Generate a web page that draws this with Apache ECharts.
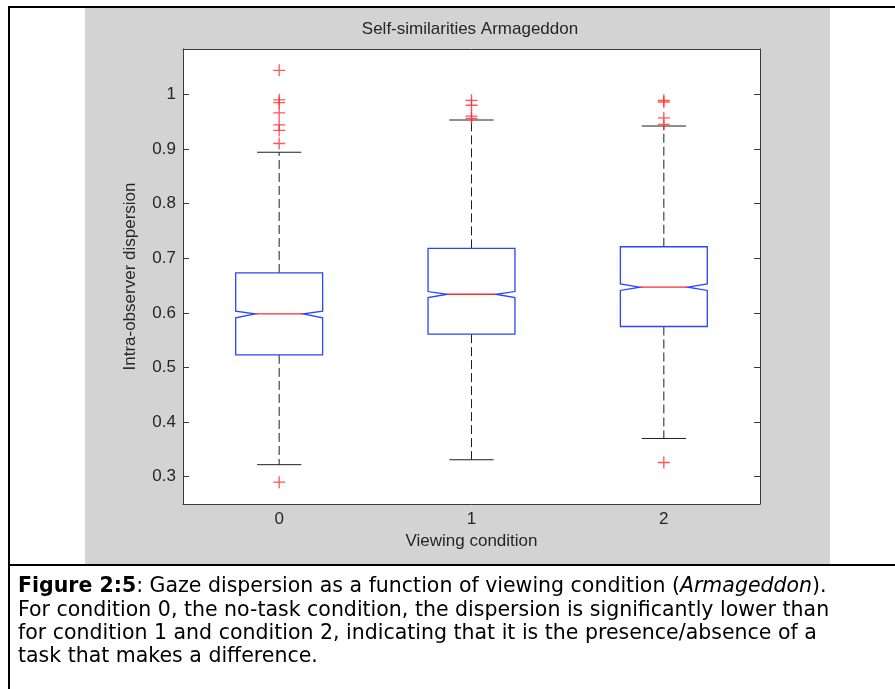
<!DOCTYPE html>
<html>
<head>
<meta charset="utf-8">
<script src="https://cdn.jsdelivr.net/npm/echarts@6/dist/echarts.min.js"></script>
<style>
  html, body { margin: 0; padding: 0; background: #ffffff; }
  #chart { width: 895px; height: 689px; }
</style>
</head>
<body>
<div id="chart"></div>
<script>
// Viewing conditions and the notched box-plot statistics for each one
const conditions = ['0', '1', '2'];
const whiskerLow = [0.322, 0.331, 0.370];
const q1 = [0.523, 0.561, 0.575];
const notchLow = [0.591, 0.628, 0.641];
const median = [0.598, 0.634, 0.647];
const notchHigh = [0.603, 0.639, 0.653];
const q3 = [0.673, 0.718, 0.721];
const whiskerHigh = [0.894, 0.953, 0.942];

// Outliers per condition
const outliers0 = [1.044, 0.990, 0.985, 0.966, 0.944, 0.934, 0.910, 0.290];
const outliers1 = [0.989, 0.980, 0.960, 0.956];
const outliers2 = [0.989, 0.986, 0.957, 0.945, 0.326];

// Y tick values
const yTicks = [0.3, 0.4, 0.5, 0.6, 0.7, 0.8, 0.9, 1.0];

const chart = echarts.init(document.getElementById('chart'), null, { renderer: 'canvas' });

const AXIS_COLOR = '#3a3a3a';
const TEXT_COLOR = '#262626';
const PLOT_FONT = '"Liberation Sans", Arial, sans-serif';
const CAPTION_FONT = '"DejaVu Sans", Verdana, sans-serif';
const CAPTION_SIZE = 20.5;

const boxData = conditions.map((c, i) => [
  i, whiskerLow[i], q1[i], notchLow[i], median[i], notchHigh[i], q3[i], whiskerHigh[i]
]);

const outlierData = []
  .concat(outliers0.map(v => [0, v]))
  .concat(outliers1.map(v => [1, v]))
  .concat(outliers2.map(v => [2, v]));

function renderNotchedBox(params, api) {
  const i = api.value(0);
  const band = api.size([1, 0])[0];
  const cx = api.coord([i, api.value(4)])[0];
  const py = k => api.coord([i, api.value(k)])[1];
  const yWl = py(1), yQ1 = py(2), yNl = py(3), yMed = py(4), yNh = py(5), yQ3 = py(6), yWh = py(7);
  const bw = band * 0.226;   // box half width
  const nw = band * 0.125;   // notch half width
  const cw = band * 0.115;   // whisker cap half width
  const blue = '#2646ff';
  const red = '#ff2a2a';
  const dark = '#1e1e1e';
  const dash = [9, 4];
  return {
    type: 'group',
    children: [
      { type: 'line', shape: { x1: cx, y1: yQ3, x2: cx, y2: yWh },
        style: { stroke: dark, lineWidth: 1, lineDash: dash } },
      { type: 'line', shape: { x1: cx, y1: yQ1, x2: cx, y2: yWl },
        style: { stroke: dark, lineWidth: 1, lineDash: dash } },
      { type: 'line', shape: { x1: cx - cw, y1: yWh, x2: cx + cw, y2: yWh },
        style: { stroke: dark, lineWidth: 1 } },
      { type: 'line', shape: { x1: cx - cw, y1: yWl, x2: cx + cw, y2: yWl },
        style: { stroke: dark, lineWidth: 1 } },
      { type: 'polygon',
        shape: { points: [
          [cx - bw, yQ3], [cx + bw, yQ3], [cx + bw, yNh], [cx + nw, yMed],
          [cx + bw, yNl], [cx + bw, yQ1], [cx - bw, yQ1], [cx - bw, yNl],
          [cx - nw, yMed], [cx - bw, yNh]
        ] },
        style: { fill: 'none', stroke: blue, lineWidth: 1.3 } },
      { type: 'line', shape: { x1: cx - nw, y1: yMed, x2: cx + nw, y2: yMed },
        style: { stroke: red, lineWidth: 1.3 } }
    ]
  };
}

const captionRich = {
  n: { fontSize: CAPTION_SIZE, fontFamily: CAPTION_FONT, fill: '#000' },
  b: { fontSize: CAPTION_SIZE, fontFamily: CAPTION_FONT, fontWeight: 'bold', fill: '#000' },
  i: { fontSize: CAPTION_SIZE, fontFamily: CAPTION_FONT, fontStyle: 'italic', fill: '#000' }
};
const captionLines = [
  '{b|Figure 2:5}{n|: Gaze dispersion as a function of viewing condition (}{i|Armageddon}{n|).}',
  '{n|For condition 0, the no-task condition, the dispersion is significantly lower than}',
  '{n|for condition 1 and condition 2, indicating that it is the presence/absence of a}',
  '{n|task that makes a difference.}'
];

const option = {
  animation: false,
  backgroundColor: '#ffffff',
  grid: { left: 183, right: 135, top: 49, bottom: 185, containLabel: false },
  graphic: [
    { type: 'rect', z: -10, shape: { x: 85, y: 8, width: 745, height: 556 },
      style: { fill: '#d3d3d3' } },
    { type: 'rect', z: -9, shape: { x: 183, y: 49, width: 577, height: 455 },
      style: { fill: '#ffffff' } },
    { type: 'rect', z: -8, shape: { x: 8, y: 6, width: 900, height: 2 }, style: { fill: '#000' } },
    { type: 'rect', z: -8, shape: { x: 8, y: 6, width: 2, height: 700 }, style: { fill: '#000' } },
    { type: 'rect', z: -8, shape: { x: 8, y: 564, width: 900, height: 2 }, style: { fill: '#000' } },
    { type: 'text', x: 470, y: 29,
      style: { text: 'Self-similarities Armageddon', font: '17px ' + PLOT_FONT,
               fill: TEXT_COLOR, textAlign: 'center', textVerticalAlign: 'middle' } }
  ].concat(captionLines.map((t, k) => ({
    type: 'text', x: 18, y: 587 + k * 23.3,
    style: { text: t, rich: captionRich, fontSize: CAPTION_SIZE, fontFamily: CAPTION_FONT,
             textAlign: 'left', textVerticalAlign: 'middle', fill: '#000' }
  }))),
  xAxis: [
    {
      type: 'category', data: conditions, position: 'bottom', boundaryGap: true,
      axisLine: { lineStyle: { color: AXIS_COLOR, width: 1 } },
      axisTick: { inside: true, alignWithLabel: true, length: 6, lineStyle: { color: AXIS_COLOR } },
      axisLabel: { color: TEXT_COLOR, fontSize: 17, fontFamily: PLOT_FONT, margin: 7 },
      splitLine: { show: false },
      name: 'Viewing condition', nameLocation: 'middle', nameGap: 29,
      nameTextStyle: { color: TEXT_COLOR, fontSize: 17, fontFamily: PLOT_FONT }
    },
    {
      type: 'category', data: conditions, position: 'top', boundaryGap: true,
      axisLine: { lineStyle: { color: AXIS_COLOR, width: 1 } },
      axisTick: { inside: true, alignWithLabel: true, length: 6, lineStyle: { color: AXIS_COLOR } },
      axisLabel: { show: false },
      splitLine: { show: false }
    }
  ],
  yAxis: [
    {
      type: 'value', position: 'left', min: 0.25, max: 1.083,
      axisLine: { show: true, lineStyle: { color: AXIS_COLOR, width: 1 } },
      axisTick: { show: true, inside: true, length: 6, customValues: yTicks,
                  lineStyle: { color: AXIS_COLOR } },
      axisLabel: { color: TEXT_COLOR, fontSize: 17, fontFamily: PLOT_FONT, margin: 7,
                   customValues: yTicks,
                   formatter: v => String(Math.round(v * 10) / 10) },
      splitLine: { show: false },
      name: 'Intra-observer dispersion', nameLocation: 'middle', nameGap: 44, nameRotate: 90,
      nameTextStyle: { color: TEXT_COLOR, fontSize: 17, fontFamily: PLOT_FONT }
    },
    {
      type: 'value', position: 'right', min: 0.25, max: 1.083,
      axisLine: { show: true, lineStyle: { color: AXIS_COLOR, width: 1 } },
      axisTick: { show: true, inside: true, length: 6, customValues: yTicks,
                  lineStyle: { color: AXIS_COLOR } },
      axisLabel: { show: false },
      splitLine: { show: false }
    }
  ],
  series: [
    {
      type: 'custom', name: 'box', xAxisIndex: 0, yAxisIndex: 0,
      renderItem: renderNotchedBox,
      encode: { x: 0, y: [1, 2, 3, 4, 5, 6, 7] },
      data: boxData, z: 2
    },
    {
      type: 'scatter', name: 'outliers', xAxisIndex: 0, yAxisIndex: 0,
      data: outlierData,
      symbol: 'path://M5.35,0H6.65V12H5.35Z M0,5.35H12V6.65H0Z',
      symbolSize: 12,
      itemStyle: { color: '#ff2a2a' },
      z: 3
    }
  ]
};

chart.setOption(option);
</script>
</body>
</html>
